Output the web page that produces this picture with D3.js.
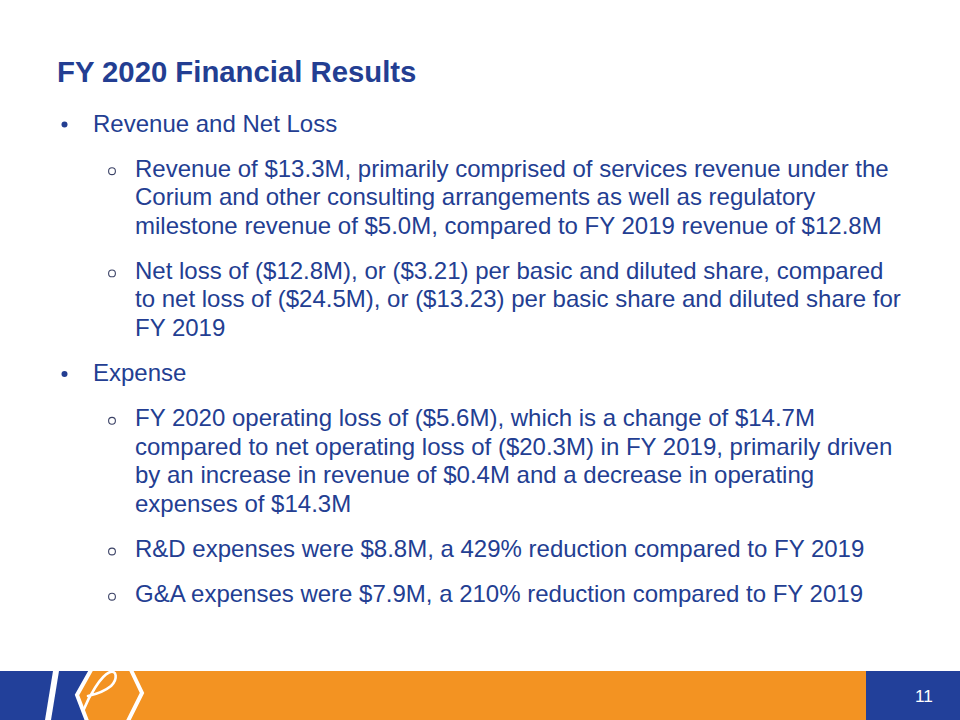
<!DOCTYPE html>
<html>
<head>
<meta charset="utf-8">
<script src="https://cdn.jsdelivr.net/npm/d3@7"></script>
<style>
  html, body { margin: 0; padding: 0; background: #ffffff; }
  svg { display: block; }
</style>
</head>
<body>
<svg id="slide" width="960" height="720"></svg>
<script>
// ---- content ----
const titleText = "FY 2020 Financial Results";
const pageNumber = "11";
const sections = ["Revenue and Net Loss", "Expense"];
const revenueItems = [
  ["Revenue of $13.3M, primarily comprised of services revenue under the",
   "Corium and other consulting arrangements as well as regulatory",
   "milestone revenue of $5.0M, compared to FY 2019 revenue of $12.8M"],
  ["Net loss of ($12.8M), or ($3.21) per basic and diluted share, compared",
   "to net loss of ($24.5M), or ($13.23) per basic share and diluted share for",
   "FY 2019"]
];
const expenseItems = [
  ["FY 2020 operating loss of ($5.6M), which is a change of $14.7M",
   "compared to net operating loss of ($20.3M) in FY 2019, primarily driven",
   "by an increase in revenue of $0.4M and a decrease in operating",
   "expenses of $14.3M"],
  ["R&D expenses were $8.8M, a 429% reduction compared to FY 2019"],
  ["G&A expenses were $7.9M, a 210% reduction compared to FY 2019"]
];

// ---- layout ----
const BLUE = "#22409a", TEXT = "#233e92", ORANGE = "#f39322";
const FONT = "'Liberation Sans', Arial, Helvetica, sans-serif";
const svg = d3.select("#slide");

// Build flat list of lines: level 1 = section heading, level 2 = sub item
const lines = [];
function addSection(name, items) {
  lines.push({ level: 1, text: name, first: true });
  items.forEach(item => item.forEach((t, i) => lines.push({ level: 2, text: t, first: i === 0 })));
}
addSection(sections[0], revenueItems);
addSection(sections[1], expenseItems);

// vertical position: paragraph starts add a larger step than continuation lines
const lineStep = 28.5, paraStep = 45.2;
let acc = 0;
lines.forEach((d, i) => {
  if (i > 0) acc += d.first ? paraStep : lineStep;
  d.offset = acc;
});
const yScale = d3.scaleLinear().domain([0, acc]).range([131.5, 131.5 + acc]);

// Title
svg.append("text")
  .attr("x", 57).attr("y", 82)
  .attr("font-family", FONT).attr("font-weight", "bold")
  .attr("font-size", 29.3).attr("fill", TEXT)
  .text(titleText);

const g = svg.append("g").attr("font-family", FONT);

g.selectAll("text.line").data(lines).join("text")
  .attr("class", "line")
  .attr("x", d => d.level === 1 ? 93 : 135)
  .attr("y", d => yScale(d.offset))
  .attr("font-size", 24)
  .attr("fill", TEXT)
  .text(d => d.text);

// bullets
g.selectAll("circle.b1").data(lines.filter(d => d.level === 1)).join("circle")
  .attr("class", "b1")
  .attr("cx", 64.5).attr("cy", d => yScale(d.offset) - 7)
  .attr("r", 3).attr("fill", TEXT);

g.selectAll("circle.b2").data(lines.filter(d => d.level === 2 && d.first)).join("circle")
  .attr("class", "b2")
  .attr("cx", 112).attr("cy", d => yScale(d.offset) - 5.5)
  .attr("r", 3.4).attr("fill", "none")
  .attr("stroke", "#3b4266").attr("stroke-width", 1.1);

// ---- footer band ----
const footer = svg.append("g");
footer.append("rect").attr("x", 0).attr("y", 671).attr("width", 960).attr("height", 49).attr("fill", ORANGE);
// left blue part bounded by the "<" of the logo
footer.append("path")
  .attr("d", "M0,671 L90,671 L76,695 L86,720 L0,720 Z")
  .attr("fill", BLUE);
footer.append("rect").attr("x", 866).attr("y", 671).attr("width", 94).attr("height", 49).attr("fill", BLUE);

// logo strokes
footer.append("path")
  .attr("d", "M53,671 L59,671 L51,720 L45,720 Z")
  .attr("fill", "#ffffff");
footer.append("path")
  .attr("d", "M91,670 L77,695 L87,721")
  .attr("fill", "none").attr("stroke", "#ffffff").attr("stroke-width", 4).attr("stroke-linejoin", "miter");
footer.append("path")
  .attr("d", "M131,670 L142,693 L128,721")
  .attr("fill", "none").attr("stroke", "#ffffff").attr("stroke-width", 4).attr("stroke-linejoin", "miter");
footer.append("path")
  .attr("d", "M84,709 C89,696 101,676 109,672.5 C117,669 118,679 111,686 C105,691 97,694 88,696")
  .attr("fill", "none").attr("stroke", "#ffffff").attr("stroke-width", 2.6).attr("stroke-linecap", "round");

// page number
footer.append("text")
  .attr("x", 915).attr("y", 702)
  .attr("font-family", FONT).attr("font-size", 17.3)
  .attr("fill", "#ffffff")
  .text(pageNumber);
</script>
</body>
</html>
